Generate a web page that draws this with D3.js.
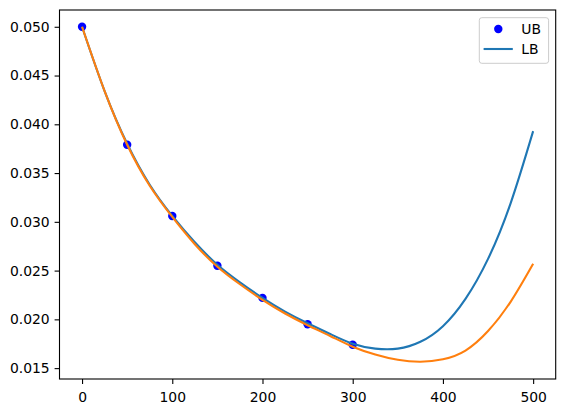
<!DOCTYPE html>
<html>
<head>
<meta charset="utf-8">
<script src="https://cdn.jsdelivr.net/npm/d3@7"></script>
<style>
  body { margin: 0; background: white; }
  text { font-family: "DejaVu Sans", sans-serif; }
</style>
</head>
<body>
<script>
// data
var ubX = [0, 50, 100, 150, 200, 250, 300];
var ubY = [0.0500, 0.0379, 0.0306, 0.0255, 0.0222, 0.0195, 0.0174];

var curveX = [0, 25, 50, 75, 100, 125, 150, 175, 200, 225, 250, 275, 300,
              325, 350, 375, 400, 425, 450, 475, 500];
var lbY = [0.0500, 0.0434, 0.0380, 0.0338, 0.0306, 0.0279, 0.0256, 0.0238,
           0.0222, 0.0208, 0.0196, 0.0185, 0.0175, 0.0170, 0.0170, 0.0177,
           0.0193, 0.0221, 0.0262, 0.0319, 0.0393];
var fitY = [0.0500, 0.0434, 0.0379, 0.0337, 0.0305, 0.0277, 0.0254, 0.0236,
            0.0220, 0.0206, 0.0194, 0.0183, 0.0172, 0.0164, 0.01585, 0.01565,
            0.0159, 0.0168, 0.0188, 0.0218, 0.0257];

var xTicks = [0, 100, 200, 300, 400, 500];
var yTicks = [0.015, 0.020, 0.025, 0.030, 0.035, 0.040, 0.045, 0.050];
var legendLabels = ["UB", "LB"];

// margins so the axes box sits where matplotlib put it
var margin = {top: 10, right: 9.3, bottom: 34, left: 59.5},
    width = 565 - margin.left - margin.right,
    height = 413 - margin.top - margin.bottom;

var svg = d3.select("body").append("svg")
    .attr("width", 565)
    .attr("height", 413)
    .append("g")
    .attr("transform", "translate(" + margin.left + "," + margin.top + ")");

var x = d3.scaleLinear().domain([-25, 525]).range([0, width]);
var y = d3.scaleLinear().domain([0.013885, 0.05172]).range([height, 0]);

// axes
var xAxis = d3.axisBottom(x).tickValues(xTicks).tickSize(4.9).tickPadding(4.9)
    .tickFormat(d3.format("d"));
var yAxis = d3.axisLeft(y).tickValues(yTicks).tickSize(4.9).tickPadding(4.9)
    .tickFormat(d3.format(".3f"));

var gx = svg.append("g")
    .attr("transform", "translate(0," + height + ")")
    .call(xAxis);
var gy = svg.append("g")
    .call(yAxis);

[gx, gy].forEach(function(g){
  g.select(".domain").remove();
  g.selectAll(".tick line").style("stroke", "black").style("stroke-width", "1.1px");
  g.selectAll(".tick text").style("font-size", "13.9px").attr("fill", "black");
});
gx.selectAll(".tick text").attr("dy", "0.95em");

// UB dots
svg.selectAll(".ub")
    .data(ubX)
    .enter()
    .append("circle")
    .attr("class", "ub")
    .attr("cx", function(d){ return x(d); })
    .attr("cy", function(d, i){ return y(ubY[i]); })
    .attr("r", 4.2)
    .style("fill", "#0000ff");

var line = d3.line()
    .x(function(d){ return x(d[0]); })
    .y(function(d){ return y(d[1]); })
    .curve(d3.curveNatural);

svg.append("path")
    .datum(d3.zip(curveX, lbY))
    .attr("d", line)
    .style("fill", "none")
    .style("stroke", "#1f77b4")
    .style("stroke-width", "2.1px");

svg.append("path")
    .datum(d3.zip(curveX, fitY))
    .attr("d", line)
    .style("fill", "none")
    .style("stroke", "#ff7f0e")
    .style("stroke-width", "2.1px");

// axes box
svg.append("rect")
    .attr("width", width)
    .attr("height", height)
    .style("fill", "none")
    .style("stroke", "black")
    .style("stroke-width", "1.1px");

// legend
var lg = svg.append("g")
    .attr("transform", "translate(" + (width - 76.4) + ",7.7)");

lg.append("rect")
    .attr("width", 69.3)
    .attr("height", 45.6)
    .attr("rx", 2.5)
    .style("fill", "white")
    .style("fill-opacity", 0.8)
    .style("stroke", "#cccccc")
    .style("stroke-width", "1px");

lg.append("circle")
    .attr("cx", 19)
    .attr("cy", 11.3)
    .attr("r", 4.2)
    .style("fill", "#0000ff");

lg.append("line")
    .attr("x1", 4.3)
    .attr("x2", 33.5)
    .attr("y1", 31.3)
    .attr("y2", 31.3)
    .style("stroke", "#1f77b4")
    .style("stroke-width", "2.1px");

legendLabels.forEach(function(t, i){
  lg.append("text")
    .text(t)
    .attr("x", 42)
    .attr("y", 16.3 + i * 20)
    .style("font-size", "13.9px")
    .attr("fill", "black");
});
</script>
</body>
</html>
